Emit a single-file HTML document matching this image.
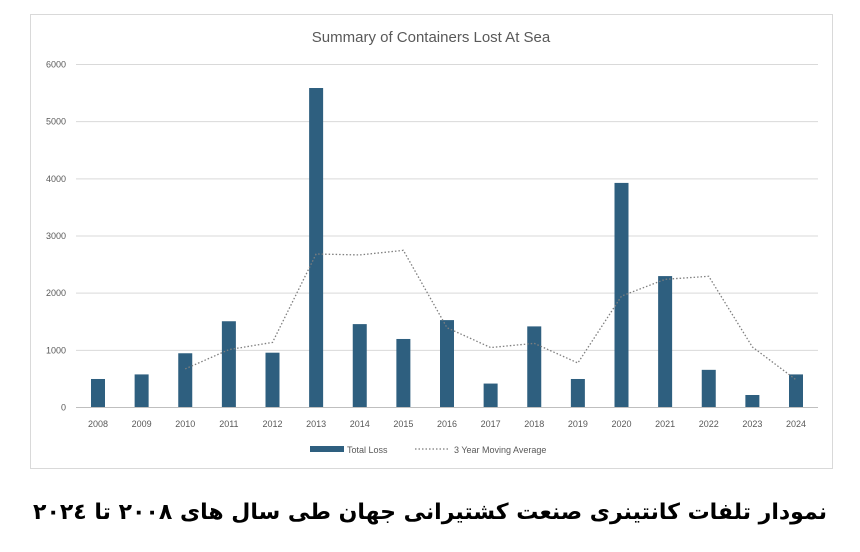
<!DOCTYPE html>
<html><head><meta charset="utf-8"><style>
body{margin:0;background:#fff;width:860px;height:547px;overflow:hidden;font-family:"Liberation Sans",sans-serif}
</style></head><body>
<svg width="860" height="547">
<rect x="30.5" y="14.5" width="802" height="454" fill="#fff" stroke="#d9d9d9"/>
<text x="431" y="42" text-anchor="middle" font-size="15" fill="#595959">Summary of Containers Lost At Sea</text>
<g id="grid"></g><g id="bars"></g><g id="line"></g><g id="labels"></g>
<g>
<rect x="310" y="446" width="34" height="6" fill="#2e5f7f"/>
<text x="347" y="453" font-size="9" fill="#595959">Total Loss</text>
<line x1="415" y1="449" x2="448" y2="449" stroke="#595959" stroke-dasharray="1.5,2"/>
<text x="454" y="453" font-size="9" fill="#595959">3 Year Moving Average</text>
</g>
<text x="430" y="519" text-anchor="middle" direction="rtl" font-size="22" font-weight="600" fill="#000" font-family="'DejaVu Sans',sans-serif">نمودار تلفات کانتینری صنعت کشتیرانی جهان طی سال های ٢٠٠٨ تا ٢٠٢٤</text>
</svg>
<script>
const years=["2008","2009","2010","2011","2012","2013","2014","2015","2016","2017","2018","2019","2020","2021","2022","2023","2024"];
const totalLoss=[490,570,940,1500,950,5580,1450,1190,1520,410,1410,490,3920,2290,650,210,570];
const yTicks=[0,1000,2000,3000,4000,5000,6000];
const NS="http://www.w3.org/2000/svg";
const x0=98,dx=(796-98)/16,y0=407,yTop=64,yMax=6000;
const X=i=>x0+i*dx, Y=v=>y0-(y0-yTop)*v/yMax;
function mk(t,a,p){const e=document.createElementNS(NS,t);for(const k in a)e.setAttribute(k,a[k]);p.appendChild(e);return e;}
const g=document.getElementById('grid'),b=document.getElementById('bars'),l=document.getElementById('line'),lb=document.getElementById('labels');
yTicks.forEach(v=>{
 const ln=mk('line',{x1:76,x2:818,y1:Y(v)+.5,y2:Y(v)+.5,stroke:v===0?'#bfbfbf':'#d9d9d9'},g);
 
 
 const t=mk('text',{x:66,y:Y(v)+3.5,'text-anchor':'end','font-size':9,fill:'#595959'},lb);t.textContent=v;
 
 
});
years.forEach((yr,i)=>{
 const r=mk('rect',{x:X(i)-7,y:Y(totalLoss[i]),width:14,height:y0-Y(totalLoss[i]),fill:'#2e5f7f'},b);
 
 
 const t=mk('text',{x:X(i),y:427,'text-anchor':'middle','font-size':9,fill:'#595959'},lb);t.textContent=yr;
 
 
});
const pts=[];
for(let i=2;i<totalLoss.length;i++){const m=(totalLoss[i]+totalLoss[i-1]+totalLoss[i-2])/3;pts.push(X(i)+','+Y(m));}
const pl=mk('polyline',{points:pts.join(' '),fill:'none',stroke:'#7f7f7f','stroke-width':1.3,'stroke-dasharray':'1.5,2'},l);


</script>
</body></html>
